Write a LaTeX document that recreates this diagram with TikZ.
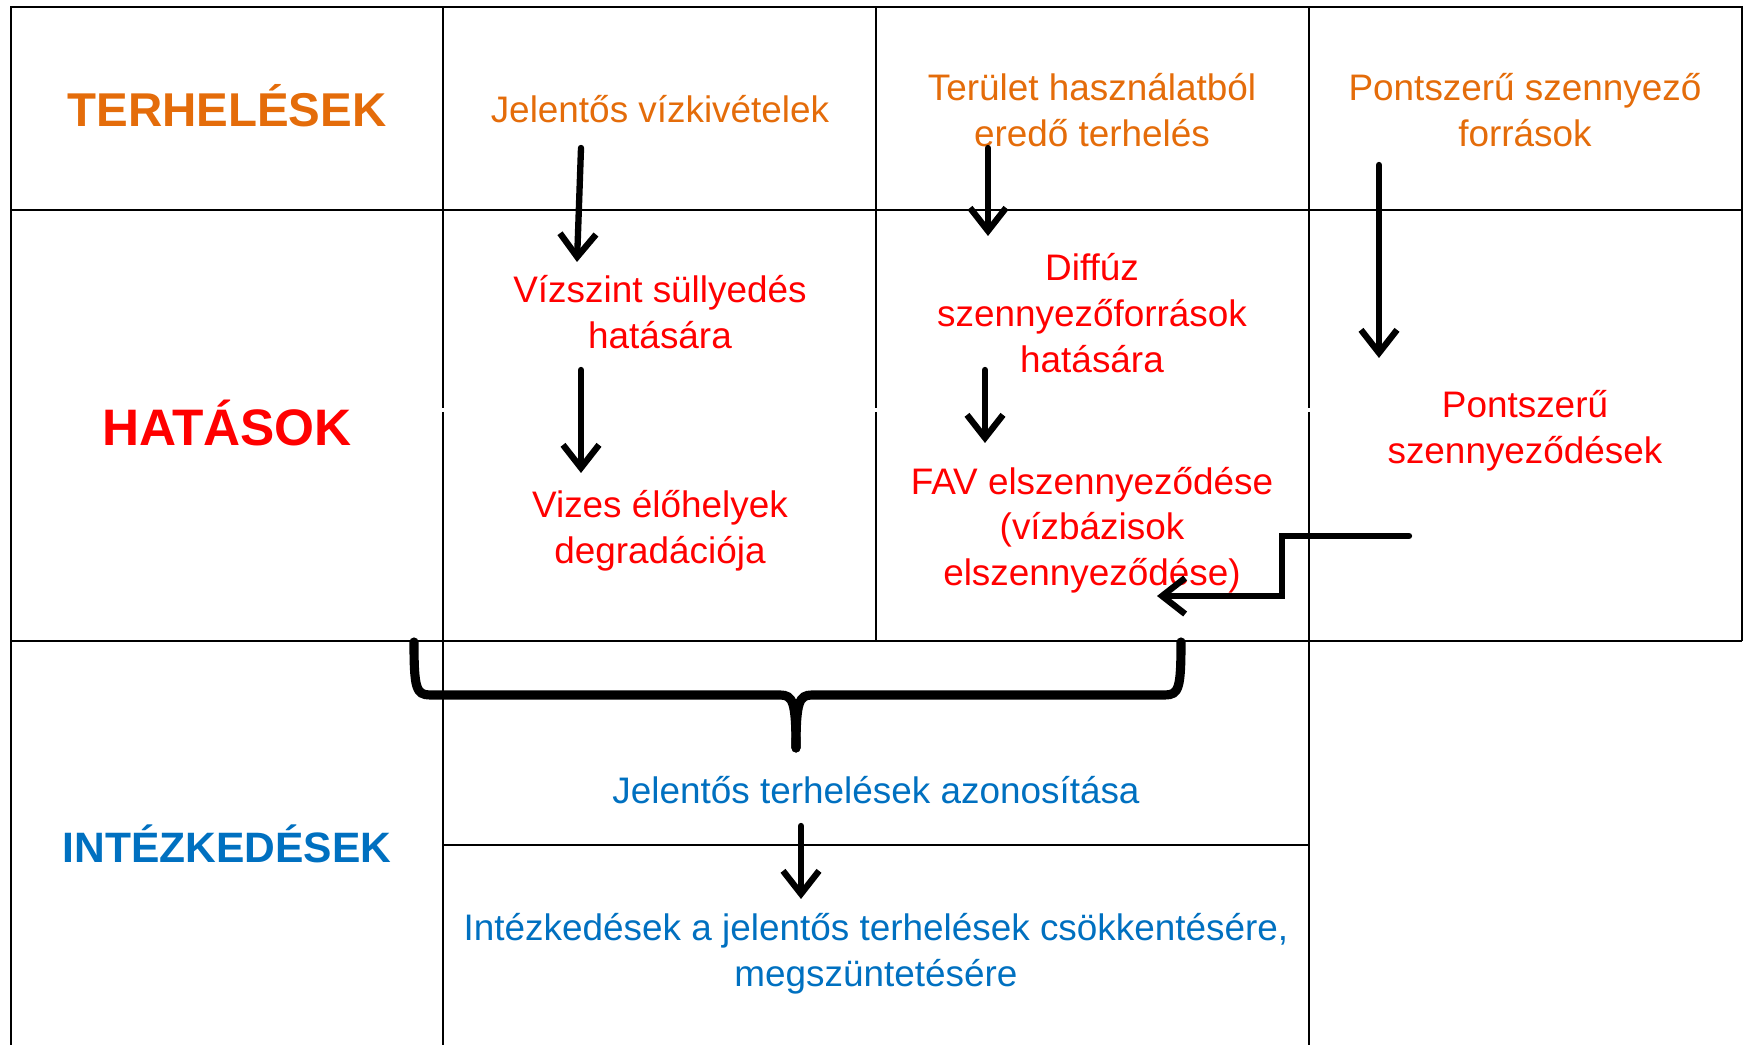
\documentclass[tikz,border=0pt]{standalone}
\usepackage{fontspec}
\setmainfont{Liberation Sans}
\usepackage{xcolor}
\usetikzlibrary{arrows.meta}

\definecolor{terhOrange}{HTML}{E46C0A}
\definecolor{hatRed}{HTML}{FF0000}
\definecolor{intBlue}{HTML}{0070C0}

\begin{document}
\begin{tikzpicture}[x=0.1mm, y=-0.1mm,
    grid/.style={line width=0.8pt},
    arr/.style={line width=1.8pt, line cap=round, -{Straight Barb[length=2.3mm, width=3.6mm]}},
    brace/.style={line width=2.6pt, line cap=round},
    head/.style={inner sep=0pt, align=center},
    txt/.style={inner sep=0pt, align=center, font=\fontsize{10.5}{13}\selectfont}]
    \useasboundingbox (0,0) rectangle (1744,1045);

    % Table
    \draw[grid] (11,1045) -- (11,7) -- (1742,7) -- (1742,641);
    \draw[grid] (11,210) -- (1742,210);
    \draw[grid] (11,641) -- (1742,641);
    \draw[grid] (443,845) -- (1309,845);
    \foreach \cx/\cy in {443/1045, 876/641, 1309/1045} {
        \draw[grid] (\cx,7) -- (\cx,408);
        \draw[grid] (\cx,412) -- (\cx,\cy);
    }

    % Row headings
    \node[head, text=terhOrange, font=\fontsize{13.5}{16}\selectfont\bfseries] (terh) at (227,106) {TERHELÉSEK};
    \node[head, text=hatRed, font=\fontsize{14.6}{17}\selectfont\bfseries] (hat) at (227,423) {HATÁSOK};
    \node[head, text=intBlue, font=\fontsize{12.1}{15}\selectfont\bfseries] (intez) at (227,844) {INTÉZKEDÉSEK};

    % Loads
    \node[txt, text=terhOrange] (vizkiv) at (660,109) {Jelentős vízkivételek};
    \node[txt, text=terhOrange] (terulet) at (1092,110) {Terület használatból\\eredő terhelés};
    \node[txt, text=terhOrange] (pontforr) at (1525,110) {Pontszerű szennyező\\források};

    % Impacts
    \node[txt, text=hatRed] (vizszint) at (660,312) {Vízszint süllyedés\\hatására};
    \node[txt, text=hatRed] (vizes) at (660,531) {Vizes élőhelyek\\degradációja};
    \node[txt, text=hatRed] (diffuz) at (1092,313) {Diffúz\\szennyezőforrások\\hatására};
    \node[txt, text=hatRed] (fav) at (1092,530) {FAV elszennyeződése\\(vízbázisok\\elszennyeződése)};
    \node[txt, text=hatRed] (pontszenny) at (1525,431) {Pontszerű\\szennyeződések};

    % Measures
    \node[txt, text=intBlue] (azon) at (876,790) {Jelentős terhelések azonosítása};
    \node[txt, text=intBlue] (csokk) at (876,954) {Intézkedések a jelentős terhelések csökkentésére,\\megszüntetésére};

    % Arrow ends
    \coordinate (vizkivS) at (581,148);
    \coordinate (vizszintN) at (577,262);
    \coordinate (vizszintS) at (581,370);
    \coordinate (vizesN) at (581,473);
    \coordinate (teruletS) at (988,148);
    \coordinate (diffuzN) at (988,236);
    \coordinate (diffuzS) at (985,370);
    \coordinate (favN) at (985,443);
    \coordinate (pontforrS) at (1379,165);
    \coordinate (pontszennyN) at (1379,358);
    \coordinate (pontszennyW) at (1409,536);
    \coordinate (favE) at (1157,596);
    \coordinate (braceTip) at (796,748);
    \coordinate (azonS) at (801,826);
    \coordinate (csokkN) at (801,899);

    \draw[arr] (vizkivS) -- (vizszintN);
    \draw[arr] (vizszintS) -- (vizesN);
    \draw[arr] (teruletS) -- (diffuzN);
    \draw[arr] (diffuzS) -- (favN);
    \draw[arr] (pontforrS) -- (pontszennyN);
    \draw[arr] (pontszennyW) -- (1282,536) -- (1282,596) -- (favE);
    \draw[arr] (azonS) -- (csokkN);

    % Brace
    \draw[brace] (414,642) .. controls (414,688) and (416,695) .. (430,695) -- (780,695)
        .. controls (793,695) and (796,702) .. (braceTip);
    \draw[brace] (1181,642) .. controls (1181,688) and (1179,695) .. (1165,695) -- (812,695)
        .. controls (799,695) and (796,702) .. (braceTip);
\end{tikzpicture}
\end{document}
